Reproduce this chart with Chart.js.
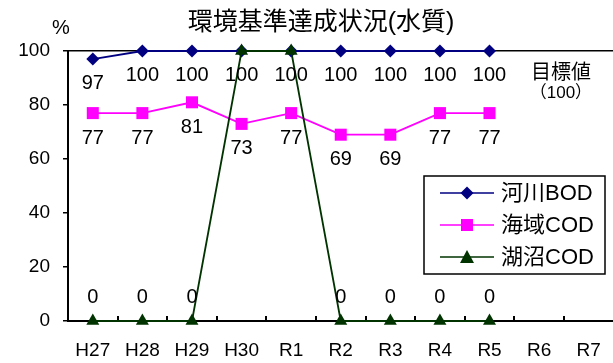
<!DOCTYPE html>
<html>
<head>
<meta charset="utf-8">
<script src="https://cdn.jsdelivr.net/npm/chart.js@4/dist/chart.umd.min.js"></script>
<style>
  html, body { margin: 0; padding: 0; overflow: hidden; background: #fff; }
  canvas { display: block; }
</style>
</head>
<body>
<canvas id="chart" width="622" height="363"></canvas>
<script>
// Fiscal years on the x axis
const years = ['H27', 'H28', 'H29', 'H30', 'R1', 'R2', 'R3', 'R4', 'R5', 'R6', 'R7'];
// Achievement rate (%) of environmental quality standards
const riverBOD = [97, 100, 100, 100, 100, 100, 100, 100, 100, null, null];
const seaCOD   = [77, 77, 81, 73, 77, 69, 69, 77, 77, null, null];
const lakeCOD  = [0, 0, 0, 100, 100, 0, 0, 0, 0, null, null];
const seriesNames = ['河川BOD', '海域COD', '湖沼COD'];
const yTicks = [0, 20, 40, 60, 80, 100];
const targetValue = 100;

const FONT = '"Liberation Sans", "Noto Sans CJK JP", sans-serif';
const COLORS = ['#000080', '#FF00FF', '#003300'];
const SHAPES = ['diamond', 'square', 'triangle'];
// vertical placement of value labels relative to each marker (px, + = below)
const LABEL_SHIFT = [24, 25, -24];

function drawMarker(ctx, shape, x, y, color) {
  ctx.fillStyle = color;
  ctx.beginPath();
  if (shape === 'diamond') {
    ctx.moveTo(x, y - 6.5); ctx.lineTo(x + 6.5, y); ctx.lineTo(x, y + 6.5); ctx.lineTo(x - 6.5, y);
  } else if (shape === 'square') {
    ctx.rect(x - 6, y - 6, 12, 12);
  } else {
    ctx.moveTo(x, y - 7); ctx.lineTo(x + 7, y + 6); ctx.lineTo(x - 7, y + 6);
  }
  ctx.closePath();
  ctx.fill();
}

const decorations = {
  id: 'decorations',
  beforeDatasetsDraw(chart) {
    const { ctx, chartArea, scales: { x } } = chart;
    // short inward tick marks on the category boundaries
    const step = x.getPixelForValue(1) - x.getPixelForValue(0);
    ctx.save();
    ctx.strokeStyle = '#000';
    ctx.lineWidth = 2;
    for (let i = 1; i < years.length; i++) {
      const px = Math.round(x.getPixelForValue(i) - step / 2);
      ctx.beginPath();
      ctx.moveTo(px, chartArea.bottom);
      ctx.lineTo(px, chartArea.bottom - 5);
      ctx.stroke();
    }
    ctx.restore();
  },
  afterDatasetsDraw(chart) {
    const { ctx, scales: { x, y } } = chart;
    const sets = chart.data.datasets;
    ctx.save();
    // value labels (a value already labelled by an earlier series at the same spot is not repeated)
    ctx.fillStyle = '#000';
    ctx.textAlign = 'center';
    ctx.textBaseline = 'middle';
    ctx.font = '20px ' + FONT;
    sets.forEach((ds, di) => {
      const meta = chart.getDatasetMeta(di);
      meta.data.forEach((pt, i) => {
        const v = ds.data[i];
        if (v === null || v === undefined) return;
        for (let k = 0; k < di; k++) { if (sets[k].data[i] === v) return; }
        ctx.fillText(String(v), pt.x, pt.y + LABEL_SHIFT[di]);
      });
    });

    // target note beside the 100% line
    const tx = (x.getPixelForValue(9) + x.getPixelForValue(10)) / 2 - 3;
    const ty = y.getPixelForValue(targetValue);
    ctx.font = '20px ' + FONT;
    ctx.fillText('目標値', tx, ty + 22);
    ctx.font = '17px ' + FONT;
    ctx.fillText('（100）', tx, ty + 42);

    // title and unit
    ctx.font = '25px ' + FONT;
    ctx.fillText('環境基準達成状況(水質)', 321, 23);
    ctx.font = '20px ' + FONT;
    ctx.fillText('%', 61, 28);

    // legend box
    const lx = 424, ly = 176, lw = 181, lh = 98;
    ctx.fillStyle = '#fff';
    ctx.fillRect(lx, ly, lw, lh);
    ctx.strokeStyle = '#000';
    ctx.lineWidth = 1.5;
    ctx.strokeRect(lx, ly, lw, lh);
    sets.forEach((ds, di) => {
      const ry = ly + 17 + di * 32;
      ctx.strokeStyle = ds.borderColor;
      ctx.lineWidth = 1.5;
      ctx.beginPath();
      ctx.moveTo(lx + 16, ry);
      ctx.lineTo(lx + 70, ry);
      ctx.stroke();
      drawMarker(ctx, SHAPES[di], lx + 43, ry, ds.borderColor);
      ctx.fillStyle = '#000';
      ctx.textAlign = 'left';
      ctx.font = '22px ' + FONT;
      ctx.fillText(ds.label, lx + 77, ry + 1);
    });
    ctx.restore();
  }
};

const pointStyles = { diamond: 'rectRot', square: 'rect', triangle: 'triangle' };
const radii = { diamond: 6.5, square: 8.5, triangle: 7.5 };

function series(idx, values, order) {
  return {
    label: seriesNames[idx],
    data: values,
    borderColor: COLORS[idx],
    backgroundColor: COLORS[idx],
    borderWidth: 1.8,
    pointStyle: pointStyles[SHAPES[idx]],
    pointRadius: radii[SHAPES[idx]],
    pointBorderWidth: 0,
    pointBackgroundColor: COLORS[idx],
    tension: 0,
    clip: false,
    order: order
  };
}

new Chart(document.getElementById('chart'), {
  type: 'line',
  data: {
    labels: years,
    datasets: [
      series(0, riverBOD, 3),
      series(1, seaCOD, 2),
      series(2, lakeCOD, 1)
    ]
  },
  options: {
    responsive: false,
    animation: false,
    events: [],
    layout: { padding: { top: 51, right: 0, bottom: 0, left: 0 } },
    plugins: { legend: { display: false }, title: { display: false }, tooltip: { enabled: false } },
    scales: {
      x: {
        offset: true,
        grid: { display: false, drawTicks: false },
        border: { display: true, color: '#000', width: 2 },
        ticks: { color: '#000', font: { family: FONT, size: 19 }, padding: 18, maxRotation: 0, autoSkip: false },
        afterFit(scale) { scale.height = 42; }
      },
      y: {
        min: 0,
        max: 100,
        afterBuildTicks(scale) { scale.ticks = yTicks.map(v => ({ value: v })); },
        grid: {
          drawOnChartArea: true,
          color: ctx => (ctx.tick && ctx.tick.value === targetValue ? '#000' : 'rgba(0,0,0,0)'),
          lineWidth: 1.5,
          tickColor: '#000',
          tickLength: 5,
          tickWidth: 1.5
        },
        border: { display: true, color: '#000', width: 2 },
        ticks: { color: '#000', font: { family: FONT, size: 19 }, padding: 13 },
        afterFit(scale) { scale.width = 68; }
      }
    }
  },
  plugins: [decorations]
});
</script>
</body>
</html>
